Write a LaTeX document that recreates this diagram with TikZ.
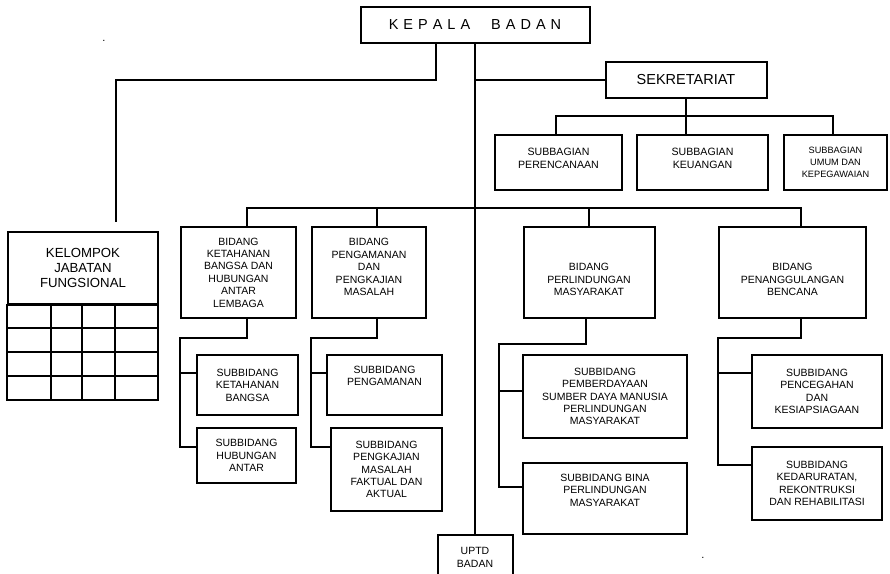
\documentclass[tikz,border=0pt]{standalone}
\usepackage{fontspec}
\setmainfont{Liberation Sans}
\newcommand{\ls}{\hspace{5pt}}
\tikzset{
  box/.style={draw, align=center, inner sep=0pt, font=\fontsize{10.5}{12.4}\selectfont},
}

\begin{document}
\begin{tikzpicture}[x=1pt, y=-1pt, line width=2pt]
\useasboundingbox (0,0) rectangle (890,573);
\node[font=\fontsize{11}{12.4}\selectfont, anchor=base] (dotA) at (104,41) {.};
\node[font=\fontsize{11}{12.4}\selectfont, anchor=base] (dotB) at (703,558) {.};
\node[box, minimum width=229, minimum height=36, font=\fontsize{14.5}{16}\selectfont] (kepala) at (475,25) {K\ls E\ls P\ls A\ls L\ls A\hspace{21pt}B\ls A\ls D\ls A\ls N};
\node[box, minimum width=161, minimum height=36, font=\fontsize{14.5}{17}\selectfont] (sekretariat) at (686,80) {SEKRETARIAT};
\node[box, minimum width=127, minimum height=55, font=\fontsize{10.6}{13.3}\selectfont, text depth=8pt] (perencanaan) at (558.5,162.5) {SUBBAGIAN\\PERENCANAAN};
\node[box, minimum width=131, minimum height=55, font=\fontsize{10.6}{13.3}\selectfont, text depth=8pt] (keuangan) at (702.5,162.5) {SUBBAGIAN\\KEUANGAN};
\node[box, minimum width=103, minimum height=55, font=\fontsize{9.2}{12.3}\selectfont] (umum) at (835.5,162.5) {SUBBAGIAN\\UMUM DAN\\KEPEGAWAIAN};
\node[box, minimum width=150, minimum height=72, font=\fontsize{13.2}{15}\selectfont] (kjf) at (83,268) {KELOMPOK\\JABATAN\\FUNGSIONAL};
\draw (kjf.south west) rectangle (158,400);
\foreach \y in {328,352,376} \draw (8,\y) -- (158,\y);
\foreach \x in {51,82,115} \draw (\x,304) -- (\x,400);
% bidang
\node[box, minimum width=115, minimum height=91] (bdKetahanan) at (238.5,272.5) {BIDANG\\KETAHANAN\\BANGSA DAN\\HUBUNGAN\\ANTAR\\LEMBAGA};
\node[box, minimum width=114, minimum height=91, text depth=11pt] (bdPengamanan) at (369,272.5) {BIDANG\\PENGAMANAN\\DAN\\PENGKAJIAN\\MASALAH};
\node[box, minimum width=131, minimum height=91, text height=46.3pt] (bdPerlindungan) at (589,272.5) {BIDANG\\PERLINDUNGAN\\MASYARAKAT};
\node[box, minimum width=147, minimum height=91, text height=46.3pt] (bdBencana) at (792.5,272.5) {BIDANG\\PENANGGULANGAN\\BENCANA};
% subbidang
\node[box, minimum width=101, minimum height=60] (sbKetahanan) at (247.5,385) {SUBBIDANG\\KETAHANAN\\BANGSA};
\node[box, minimum width=99, minimum height=55] (sbHubungan) at (246.5,455.5) {SUBBIDANG\\HUBUNGAN\\ANTAR};
\node[box, minimum width=115, minimum height=60, text depth=18pt] (sbPengamanan) at (384.5,385) {SUBBIDANG\\PENGAMANAN};
\node[box, minimum width=111, minimum height=83] (sbPengkajian) at (386.5,469.5) {SUBBIDANG\\PENGKAJIAN\\MASALAH\\FAKTUAL DAN\\AKTUAL};
\node[box, minimum width=164, minimum height=83] (sbPemberdayaan) at (605,396.5) {SUBBIDANG\\PEMBERDAYAAN\\SUMBER DAYA MANUSIA\\PERLINDUNGAN\\MASYARAKAT};
\node[box, minimum width=164, minimum height=71, text depth=17pt] (sbBina) at (605,498.5) {SUBBIDANG BINA\\PERLINDUNGAN\\MASYARAKAT};
\node[box, minimum width=130, minimum height=73] (sbPencegahan) at (817,391.5) {SUBBIDANG\\PENCEGAHAN\\DAN\\KESIAPSIAGAAN};
\node[box, minimum width=130, minimum height=73] (sbKedaruratan) at (817,483.5) {SUBBIDANG\\KEDARURATAN,\\REKONTRUKSI\\DAN REHABILITASI};
\node[box, minimum width=75, minimum height=45] (uptd) at (475,557.5) {UPTD\\BADAN};
% garis
\draw ([xshift=-39pt]kepala.south) -- ++(0,36) -| ([xshift=33pt,yshift=9pt]kjf.north);
\draw (kepala.south) -- (uptd.north);
\draw (sekretariat.west) -- (sekretariat.west -| kepala.south);
\draw (sekretariat.south) -- (sekretariat.south |- keuangan.north);
\draw ([xshift=-2.5pt]perencanaan.north) -- ++(0,-18) -| ([xshift=-2.5pt]umum.north);
\coordinate (bus) at (0,208);
\draw ([xshift=8.5pt]bdKetahanan.north) -- ([xshift=8.5pt]bdKetahanan.north |- bus) -- ([xshift=8.5pt]bdBencana.north |- bus) -- ([xshift=8.5pt]bdBencana.north);
\draw ([xshift=8pt]bdPengamanan.north) -- ++(0,-19);
\draw (bdPerlindungan.north) -- ++(0,-19);
\draw ([xshift=8.5pt]bdKetahanan.south) -- ++(0,19) -| ([yshift=8.5pt]sbHubungan.west -| bdKetahanan.west) -- ([yshift=8.5pt]sbHubungan.west);
\draw ([yshift=12pt]sbKetahanan.west) -- ([yshift=12pt]sbKetahanan.west -| bdKetahanan.west);
\draw ([xshift=8pt]bdPengamanan.south) -- ++(0,19) -| ([yshift=22.5pt]sbPengkajian.west -| bdPengamanan.west) -- ([yshift=22.5pt]sbPengkajian.west);
\draw ([yshift=12pt]sbPengamanan.west) -- ([yshift=12pt]sbPengamanan.west -| bdPengamanan.west);
\draw ([xshift=-3pt]bdPerlindungan.south) -- ++(0,25) -| ([xshift=-23pt,yshift=11.5pt]sbBina.west) -- ([yshift=11.5pt]sbBina.west);
\draw ([yshift=5.5pt]sbPemberdayaan.west) -- ([xshift=-23pt,yshift=5.5pt]sbPemberdayaan.west);
\draw ([xshift=8.5pt]bdBencana.south) -- ++(0,19) -| ([yshift=18.5pt]sbKedaruratan.west -| bdBencana.west) -- ([yshift=18.5pt]sbKedaruratan.west);
\draw ([yshift=18.5pt]sbPencegahan.west) -- ([yshift=18.5pt]sbPencegahan.west -| bdBencana.west);
\end{tikzpicture}
\end{document}
